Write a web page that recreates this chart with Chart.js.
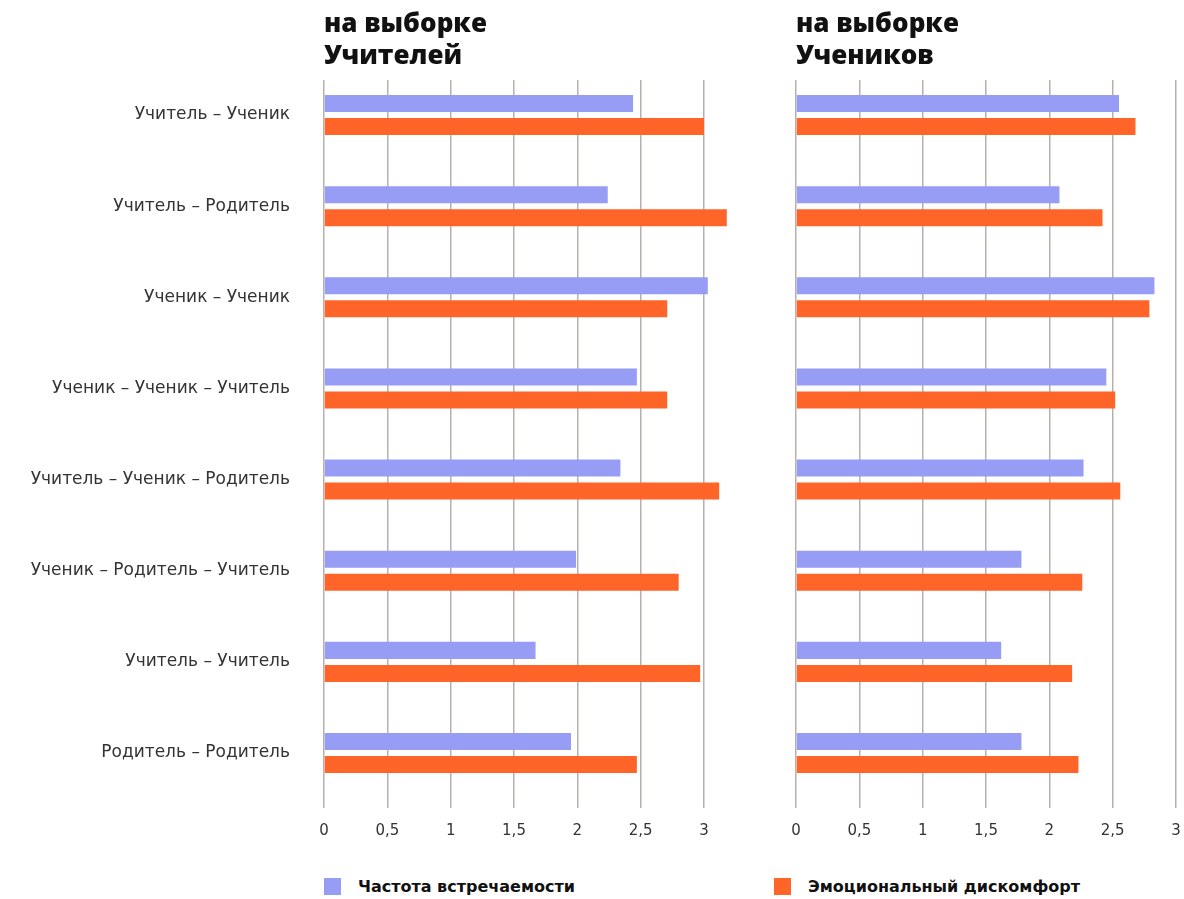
<!DOCTYPE html>
<html lang="ru">
<head>
  <meta charset="UTF-8">
  <title>Частота и дискомфорт</title>
  <script src="https://cdn.jsdelivr.net/npm/chart.js"></script>
  <style>
    body { margin: 0; background: #fff; font-family: 'Open Sans', sans-serif; overflow: hidden; }
    #wrap { position: relative; width: 1184px; height: 899px; }
    .panel { position: absolute; top: 0; height: 860px; }
    #left { left: 0; width: 770px; }
    #right { left: 770px; width: 414px; }
    .title {
      position: absolute; top: 6px; font-weight: 800; font-size: 26px;
      line-height: 32px; color: #111;
    }
    .legend {
      position: absolute; top: 877px; font-family: 'DejaVu Sans', sans-serif;
      font-weight: 700; font-size: 16px; color: #111; line-height: 19px;
      white-space: nowrap;
    }
    .legend span {
      position: absolute; left: -34px; top: 1px; width: 17px; height: 17px;
    }
  </style>
</head>
<body>
  <div id="wrap">
    <div class="panel" id="left"><canvas id="teachers"></canvas></div>
    <div class="panel" id="right"><canvas id="students"></canvas></div>
    <div class="title" style="left:324px">на выборке<br>Учителей</div>
    <div class="title" style="left:796px">на выборке<br>Учеников</div>
    <div class="legend" style="left:358px"><span style="background:#979cf5"></span>Частота встречаемости</div>
    <div class="legend" style="left:808px"><span style="background:#ff6428"></span>Эмоциональный дискомфорт</div>
  </div>

  <script>
    const categories = [
      'Учитель – Ученик',
      'Учитель – Родитель',
      'Ученик – Ученик',
      'Ученик – Ученик – Учитель',
      'Учитель – Ученик – Родитель',
      'Ученик – Родитель – Учитель',
      'Учитель – Учитель',
      'Родитель – Родитель'
    ];
    const seriesNames = ['Частота встречаемости', 'Эмоциональный дискомфорт'];

    // выборка учителей
    const teachersFrequency = [2.44, 2.24, 3.03, 2.47, 2.34, 1.99, 1.67, 1.95];
    const teachersDiscomfort = [3.0, 3.18, 2.71, 2.71, 3.12, 2.80, 2.97, 2.47];

    // выборка учеников
    const studentsFrequency = [2.55, 2.08, 2.83, 2.45, 2.27, 1.78, 1.62, 1.78];
    const studentsDiscomfort = [2.68, 2.42, 2.79, 2.52, 2.56, 2.26, 2.18, 2.23];

    const tickValues = [0, 0.5, 1, 1.5, 2, 2.5, 3];

    const purple = '#979cf5';
    const orange = '#ff6428';
    const gridColor = '#b8b0ac';

    // categories sit on a numeric axis (index 0..7) so the empty space
    // above the first row and below the last one can differ, as in the original
    const toPoints = arr => arr.map((v, i) => ({ x: v, y: i }));

    function makeChart(id, freq, disc, opts) {
      return new Chart(document.getElementById(id), {
        type: 'bar',
        data: {
          datasets: [
            { label: seriesNames[0], data: toPoints(freq), backgroundColor: purple,
              categoryPercentage: 0.505, barPercentage: 0.74 },
            { label: seriesNames[1], data: toPoints(disc), backgroundColor: orange,
              categoryPercentage: 0.505, barPercentage: 0.74 }
          ]
        },
        options: {
          indexAxis: 'y',
          responsive: true,
          maintainAspectRatio: false,
          animation: false,
          layout: { padding: opts.padding },
          plugins: { legend: { display: false }, tooltip: { enabled: false } },
          scales: {
            x: {
              min: 0,
              max: opts.max,
              afterBuildTicks: s => { s.ticks = tickValues.map(v => ({ value: v })); },
              afterFit: s => { s.height = 40; s.paddingRight = 0; },
              grid: { color: gridColor, lineWidth: 1.5, drawTicks: false },
              border: { display: false },
              ticks: {
                padding: 14,
                maxRotation: 0,
                color: '#333',
                font: { family: 'DejaVu Sans', size: 15 },
                callback: v => String(v).replace('.', ',')
              }
            },
            y: {
              type: 'linear',
              reverse: true,
              offset: false,
              min: -0.384,
              max: 7.603,
              display: opts.showLabels,
              grid: { display: false, offset: false },
              border: { display: false },
              afterBuildTicks: s => { s.ticks = categories.map((c, i) => ({ value: i })); },
              afterFit: s => { if (opts.showLabels) s.width = 324; },
              ticks: {
                padding: 26,
                color: '#333',
                font: { family: 'DejaVu Sans', size: 17 },
                callback: v => categories[v]
              }
            }
          }
        }
      });
    }

    makeChart('teachers', teachersFrequency, teachersDiscomfort,
      { max: 3.3, showLabels: true, padding: { top: 80, bottom: 12, left: 0, right: 28 } });
    makeChart('students', studentsFrequency, studentsDiscomfort,
      { max: 3, showLabels: false, padding: { top: 80, bottom: 12, left: 26, right: 8 } });
  </script>
</body>
</html>
